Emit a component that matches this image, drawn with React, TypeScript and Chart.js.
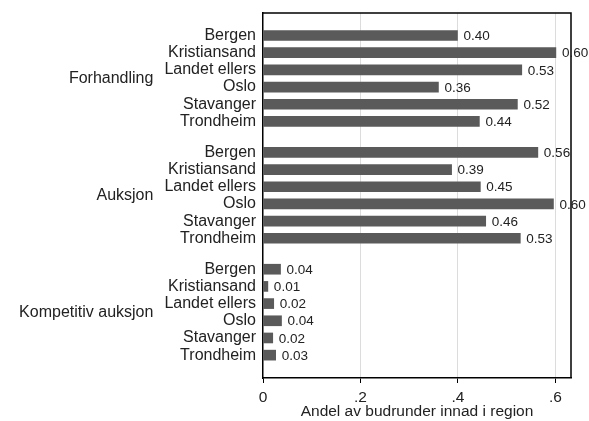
import React, { useEffect, useRef } from "react";
import { Chart, registerables } from "chart.js";

Chart.register(...registerables);

const regions = ["Bergen", "Kristiansand", "Landet ellers", "Oslo", "Stavanger", "Trondheim"];
const groups = ["Forhandling", "Auksjon", "Kompetitiv auksjon"];
const forhandling = [0.399, 0.601, 0.531, 0.36, 0.522, 0.444];
const auksjon = [0.564, 0.387, 0.446, 0.596, 0.457, 0.528];
const kompetitiv = [0.036, 0.01, 0.022, 0.038, 0.02, 0.026];
const xTicks = [0, 0.2, 0.4, 0.6];
const xTickLabels = ["0", ".2", ".4", ".6"];
const xTitle = "Andel av budrunder innad i region";

const FONT = "'Liberation Sans', Arial, sans-serif";
const GROUP_STEP = 6.8;

export default function App() {
  const ref = useRef<HTMLCanvasElement>(null);
  useEffect(() => {
    document.body.style.margin = "0";
    const series = [forhandling, auksjon, kompetitiv];
    const points: { x: number; y: number }[] = [];
    const labelAt: Record<string, string> = {};
    series.forEach((vals, gi) => {
      vals.forEach((v, i) => {
        const pos = gi * GROUP_STEP + i;
        points.push({ x: v, y: pos });
        labelAt[pos.toFixed(2)] = regions[i];
      });
    });
    const positions = points.map((p) => p.y);
    const minPos = Math.min(...positions);
    const maxPos = Math.max(...positions);

    const decor = {
      id: "decor",
      afterDatasetsDraw(chart: any) {
        const ctx = chart.ctx;
        const ca = chart.chartArea;
        ctx.save();
        ctx.strokeStyle = "#000";
        ctx.lineWidth = 1.5;
        ctx.beginPath();
        ctx.moveTo(ca.left, ca.top);
        ctx.lineTo(ca.right, ca.top);
        ctx.lineTo(ca.right, ca.bottom);
        ctx.stroke();
        // value labels
        ctx.font = `13.5px ${FONT}`;
        ctx.fillStyle = "#222";
        ctx.textAlign = "left";
        ctx.textBaseline = "middle";
        const meta = chart.getDatasetMeta(0);
        meta.data.forEach((bar: any, idx: number) => {
          ctx.fillText(points[idx].x.toFixed(2), bar.x + 6, bar.y + 1);
        });
        // group labels
        ctx.font = `16px ${FONT}`;
        let widest = 0;
        regions.forEach((r) => {
          widest = Math.max(widest, ctx.measureText(r).width);
        });
        ctx.textAlign = "right";
        const ys = chart.scales.y;
        groups.forEach((g, gi) => {
          const mid = gi * GROUP_STEP + (regions.length - 1) / 2;
          ctx.fillText(g, ca.left - 7 - widest - 11, ys.getPixelForValue(mid));
        });
        ctx.restore();
      },
    };

    const chart = new Chart(ref.current!, {
      type: "bar",
      data: {
        datasets: [
          {
            data: points as any,
            backgroundColor: "#5a5a5a",
            borderWidth: 0,
            barThickness: 10,
          },
        ],
      },
      options: {
        indexAxis: "y",
        animation: false,
        responsive: false,
        events: [],
        layout: { padding: { left: 0, right: 18, top: 13, bottom: 0 } },
        plugins: { legend: { display: false }, tooltip: { enabled: false } },
        scales: {
          x: {
            type: "linear",
            min: 0,
            max: 0.632,
            afterBuildTicks: (s: any) => {
              s.ticks = xTicks.map((v) => ({ value: v }));
            },
            afterFit: (s: any) => {
              s.height = 43;
              s.paddingLeft = 0;
              s.paddingRight = 0;
            },
            ticks: {
              font: { family: FONT, size: 15.5 },
              color: "#222",
              padding: 5,
              maxRotation: 0,
              callback: (v: any) => xTickLabels[xTicks.indexOf(Number(v))] ?? "",
            },
            grid: {
              color: (c: any) => (c.tick && c.tick.value === 0 ? "rgba(0,0,0,0)" : "#dcdcdc"),
              tickColor: "#000",
              tickLength: 5,
              lineWidth: 1,
            },
            border: { display: true, color: "#000", width: 1.5 },
            title: {
              display: true,
              text: xTitle,
              font: { family: FONT, size: 15.5 },
              color: "#222",
              padding: { top: 0, bottom: 0 },
            },
          },
          y: {
            type: "linear",
            reverse: true,
            offset: false,
            min: minPos - 1.31,
            max: maxPos + 1.33,
            afterBuildTicks: (s: any) => {
              s.ticks = positions.map((v) => ({ value: v }));
            },
            afterFit: (s: any) => {
              s.width = 263;
              s.paddingTop = 0;
              s.paddingBottom = 0;
            },
            ticks: {
              autoSkip: false,
              font: { family: FONT, size: 16 },
              color: "#222",
              padding: 7,
              callback: (v: any) => labelAt[Number(v).toFixed(2)] ?? "",
            },
            grid: { display: false, drawTicks: false },
            border: { display: true, color: "#000", width: 1.5 },
          },
        },
      },
      plugins: [decor],
    });
    return () => chart.destroy();
  }, []);
  return (
    <div style={{ width: 589, height: 421, background: "#fff" }}>
      <canvas ref={ref} width={589} height={421} />
    </div>
  );
}
